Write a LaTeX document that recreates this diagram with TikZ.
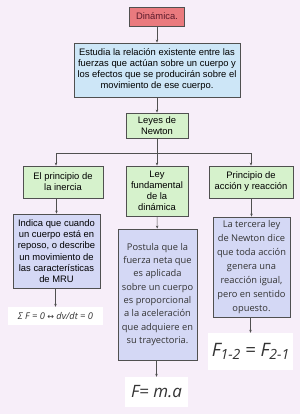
\documentclass[tikz,border=0pt]{standalone}
\usepackage{fontspec}
\setmainfont{Liberation Sans}
\newfontfamily\opensans{Open Sans}
\newfontfamily\dejavu{DejaVu Sans}
\usetikzlibrary{arrows.meta, positioning}
\definecolor{bgLila}{HTML}{F7EEF9}
\definecolor{boxRed}{HTML}{EA7A7E}
\definecolor{txtRed}{HTML}{5A1A2A}
\definecolor{boxBlue}{HTML}{CDE6F7}
\definecolor{boxGreen}{HTML}{D6F2CC}
\definecolor{boxLila}{HTML}{D4D8F5}
\definecolor{lineGray}{HTML}{505050}
\colorlet{txtGray}{black!80}

\begin{document}
\begin{tikzpicture}[x=1pt, y=-1pt,
  boxbase/.style={draw=lineGray, line width=0.8pt, align=center, inner sep=1pt,
                font=\fontsize{9.4}{11}\selectfont},
  boxR/.style={boxbase, fill=boxRed, text=txtRed, minimum width=55pt, minimum height=19pt},
  boxB/.style={boxbase, fill=boxBlue},
  boxG/.style={boxbase, fill=boxGreen},
  boxL/.style={boxbase, fill=boxLila, font=\fontsize{9.4}{11.3}\selectfont},
  boxO/.style={boxbase, fill=boxLila, text=txtGray, font=\opensans\fontsize{9.3}{13.3}\selectfont},
  formula/.style={fill=white, text=txtGray, inner sep=1pt, font=\opensans\itshape},
  arr/.style={-{Stealth[length=3pt, width=2.5pt]}, line width=0.6pt, lineGray},
  conn/.style={line width=0.6pt, lineGray},
]
  \fill[bgLila] (0,0) rectangle (300,414);
  \useasboundingbox (0,0) rectangle (300,414);
  % Top of the tree
  \node[boxR] (din) at (157,16.5) {Dinámica.};
  \node[boxB, minimum width=166pt, minimum height=54pt] (estudia) at (157,70) {%
    Estudia la relación existente entre las\\
    fuerzas que actúan sobre un cuerpo y\\
    los efectos que se producirán sobre el\\
    movimiento de ese cuerpo.};
  \node[boxG, minimum width=62pt, minimum height=25pt] (leyes) at (157,125.5) {Leyes de\\ Newton};
  % The three laws
  \node[boxG, minimum width=80pt, minimum height=32pt] (p1) at (63,182) {El principio de\\ la inercia};
  \node[boxG, minimum width=62pt, minimum height=50pt] (p2) at (157,191) {Ley\\ fundamental\\ de la\\ dinámica};
  \node[boxG, minimum width=84pt, minimum height=32pt] (p3) at (251,182) {Principio de\\ acción y reacción};
  % Descriptions
  \node[boxL, minimum width=87pt, minimum height=74pt] (d1) at (56.5,251) {%
    Indica que cuando\\ un cuerpo está en\\ reposo, o describe\\
    un movimiento de\\ las características\\ de MRU};
  \node[boxO, minimum width=79pt, minimum height=131pt] (d2) at (157.5,294.5) {%
    Postula que la\\ fuerza neta que\\ es aplicada\\ sobre un cuerpo\\
    es proporcional\\ a la aceleración\\ que adquiere en\\ su trayectoria.};
  \node[boxO, minimum width=77pt, minimum height=100pt, font=\opensans\fontsize{9.3}{14}\selectfont] (d3) at (251.5,267) {%
    La tercera ley\\ de Newton dice\\ que toda acción\\ genera una\\
    reacción igual,\\ pero en sentido\\ opuesto.};
  % Formulas
  \node[formula, minimum width=95pt, minimum height=18pt, font=\opensans\itshape\fontsize{9.3}{11}\selectfont]
    (f1) at (55.5,316) {Σ F = 0 {\dejavu\upshape\fontsize{8}{11}\selectfont ↔} dv/dt = 0};
  \node[formula, minimum width=63pt, minimum height=30pt, font=\opensans\itshape\fontsize{17}{20}\selectfont]
    (f2) at (156.5,392) {F= m.a};
  \node[formula, minimum width=85pt, minimum height=37pt, font=\opensans\itshape\fontsize{18.5}{20}\selectfont]
    (f3) at (250.5,351.5) {F{\fontsize{14}{16}\selectfont\raisebox{-3pt}{1-2}} = F{\fontsize{14}{16}\selectfont\raisebox{-3pt}{2-1}}};
  % Connectors
  \coordinate (split) at (157,153);
  \coordinate (bl) at (56,153);
  \coordinate (br) at (251,153);
  \draw[arr] (din) -- (estudia);
  \draw[arr] (estudia) -- (leyes);
  \draw[conn] (leyes.south) -- (split);
  \draw[conn] (bl) -- (br);
  \draw[arr] (bl) -- (bl |- p1.north);
  \draw[arr] (split) -- (p2.north);
  \draw[arr] (br) -- (p3.north);
  \draw[arr] (p1.south -| d1) -- (d1.north);
  \draw[arr] (p2) -- (d2);
  \draw[arr] (p3.south -| d3) -- (d3.north);
  \draw[arr] (d1.south -| f1) -- (f1.north);
  \draw[arr] (d2.south -| f2) -- (f2.north);
  \draw[arr] (d3.south -| f3) -- (f3.north);
\end{tikzpicture}
\end{document}
